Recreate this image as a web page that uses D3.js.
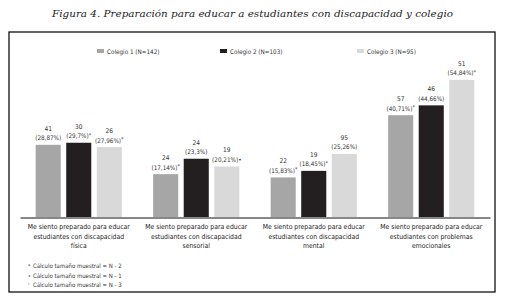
<!DOCTYPE html>
<html><head><meta charset="utf-8">
<script src="https://cdn.jsdelivr.net/npm/d3@7"></script>
<style>
body{margin:0;background:#fff;}
svg{display:block;}
.cond{font-family:'Liberation Sans Narrow','DejaVu Sans Condensed','Arial Narrow',sans-serif;}
</style></head>
<body><svg id="c" width="505" height="300"></svg>
<script>
const categories = [
  ["Me siento preparado para educar","estudiantes con discapacidad","física"],
  ["Me siento preparado para educar","estudiantes con discapacidad","sensorial"],
  ["Me siento preparado para educar","estudiantes con discapacidad","mental"],
  ["Me siento preparado para educar","estudiantes con problemas","emocionales"]
];
const seriesNames = ["Colegio 1 (N=142)","Colegio 2 (N=103)","Colegio 3 (N=95)"];
const counts1 = [41,24,22,57];
const pct1 = [28.87,17.14,15.83,40.71];
const marks1 = ["","*","*","*"];
const counts2 = [30,24,19,46];
const pct2 = [29.7,23.3,18.45,44.66];
const marks2 = ["*","","*",""];
const counts3 = [26,19,95,51];
const pct3 = [27.96,20.21,25.26,54.84];
const marks3 = ["*","•","","*"];
const footnotes = [["*","Cálculo tamaño muestral = N - 2"],["•","Cálculo tamaño muestral = N - 1"],["'","Cálculo tamaño muestral = N - 3"]];
const colors = ["#a6a6a6","#231f20","#d9d9d9"];
const title = "Figura 4. Preparación para educar a estudiantes con discapacidad y colegio";

const seriesData = [
  {counts:counts1,pct:pct1,marks:marks1},
  {counts:counts2,pct:pct2,marks:marks2},
  {counts:counts3,pct:pct3,marks:marks3}
];

const svg = d3.select("#c");
svg.append("text").attr("x",252.5).attr("y",17).attr("text-anchor","middle")
  .attr("font-family","'DejaVu Serif',serif").attr("font-style","italic")
  .attr("font-size",10).attr("textLength",401).attr("lengthAdjust","spacingAndGlyphs")
  .attr("fill","#222").text(title);

svg.append("rect").attr("x",9).attr("y",32).attr("width",486).attr("height",260)
  .attr("fill","none").attr("stroke","#111").attr("stroke-width",1.3);

const idx = d3.range(categories.length);
const x0 = d3.scaleBand().domain(idx).range([20,490]).paddingInner(0.2665).paddingOuter(0.13325);
const x1 = d3.scaleBand().domain([0,1,2]).range([0,x0.bandwidth()]).paddingInner(0.18);
const y = d3.scaleLinear().domain([0,60]).range([217,67]);

const g = svg.append("g").attr("class","cond");

const grp = g.selectAll(".grp").data(idx).join("g")
  .attr("transform",i=>`translate(${x0(i)},0)`);

const rowData = i=>seriesData.map((s,k)=>({k,v:s.pct[i],c:s.counts[i],m:s.marks[i]}));

grp.selectAll("rect").data(rowData)
  .join("rect")
  .attr("x",d=>x1(d.k)).attr("width",x1.bandwidth())
  .attr("y",d=>y(d.v)).attr("height",d=>y(0)-y(d.v))
  .attr("fill",d=>colors[d.k]);

grp.selectAll(".cnt").data(rowData)
  .join("text").attr("class","cnt")
  .attr("x",d=>x1(d.k)+x1.bandwidth()/2).attr("y",d=>y(d.v)-14)
  .attr("text-anchor","middle").attr("font-size",6.5).attr("fill","#333")
  .text(d=>d.c);

const pl = grp.selectAll(".pct").data(rowData)
  .join("text").attr("class","pct")
  .attr("x",d=>x1(d.k)+x1.bandwidth()/2).attr("y",d=>y(d.v)-4.5)
  .attr("text-anchor","middle").attr("font-size",6.3).attr("fill","#333");
pl.append("tspan").text(d=>"("+String(d.v).replace(".",",")+"%)");
pl.append("tspan").attr("font-size",d=>d.m==="•"?6.3:5.5).attr("dy",d=>d.m==="•"?0:-1.5).text(d=>d.m);

const axis = d3.axisBottom(x0).tickSize(0).tickFormat("");
const ax = g.append("g").attr("transform","translate(0,217.5)").call(axis);
ax.select(".domain").attr("stroke","#111").attr("stroke-width",1);

const lab = g.selectAll(".lab").data(idx).join("text").attr("class","lab")
  .attr("text-anchor","middle").attr("font-size",6.8).attr("fill","#222");
lab.selectAll("tspan").data(i=>categories[i].map(t=>({t,i}))).join("tspan")
  .attr("x",d=>x0(d.i)+x0.bandwidth()/2).attr("y",(d,j)=>229+j*9.7).text(d=>d.t);

const leg = g.selectAll(".leg").data(seriesNames).join("g").attr("class","leg")
  .attr("transform",(d,k)=>`translate(${[97,220,357][k]},52)`);
leg.append("rect").attr("x",0).attr("y",-3).attr("width",7).attr("height",4).attr("fill",(d,k)=>colors[k]);
leg.append("text").attr("x",10).attr("y",1.5).attr("font-size",6.3).attr("fill","#333").text(d=>d);

const fn = g.selectAll(".fn").data(footnotes).join("g").attr("class","fn")
  .attr("transform",(d,k)=>`translate(28,${268+k*9.5})`);
fn.append("text").attr("x",0).attr("y",0).attr("font-size",5.5).attr("fill","#333").text(d=>d[0]);
fn.append("text").attr("x",5).attr("y",0).attr("font-size",6).attr("fill","#333").text(d=>d[1]);
</script></body></html>
